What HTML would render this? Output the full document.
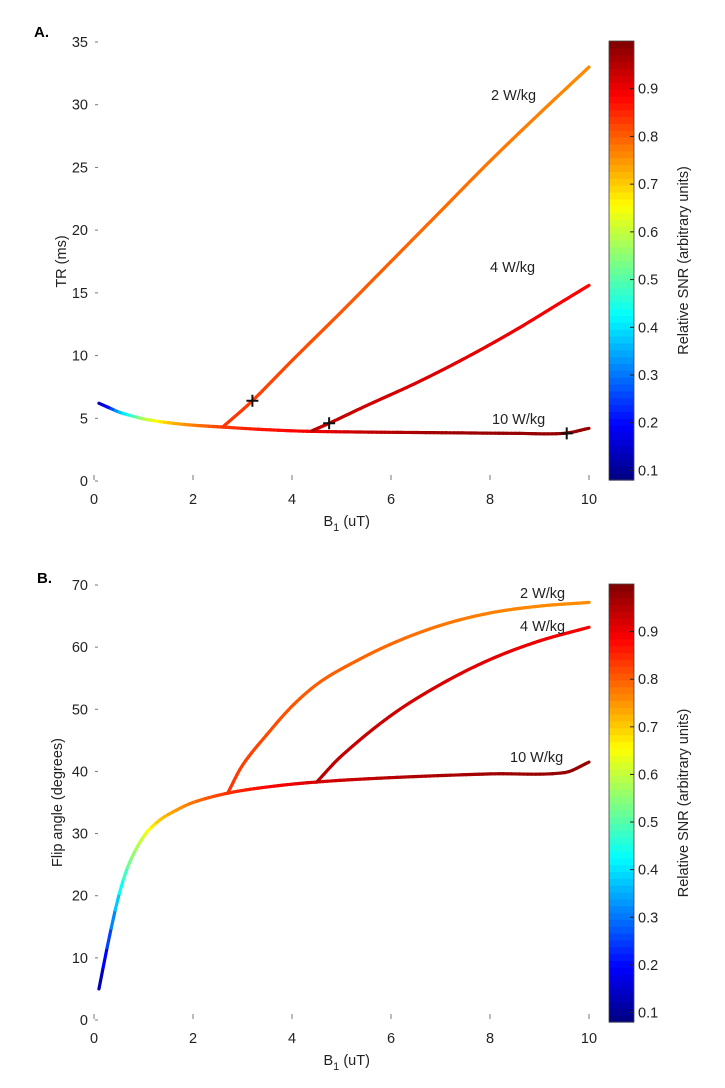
<!DOCTYPE html>
<html><head><meta charset="utf-8"><style>
body{margin:0;background:#fff;}
svg{display:block;font-family:"Liberation Sans","DejaVu Sans",sans-serif;}
</style></head><body>
<svg id="fig" width="725" height="1088" viewBox="0 0 725 1088"></svg>
<script>
// ---- Panel A data (TR vs B1) ----
const baseA_x=[0.1,0.3,0.5,0.8,1.0,1.3,1.6,2.0,2.6,3.2,4.0,4.5,5.5,7,8.5,9.5,10];
const baseA_y=[6.2,5.85,5.5,5.15,4.95,4.75,4.6,4.45,4.3,4.15,4.0,3.95,3.9,3.85,3.8,3.8,4.2];
const baseA_c=[0.12,0.2,0.35,0.48,0.58,0.66,0.72,0.77,0.83,0.86,0.88,0.9,0.94,0.97,0.98,0.98,0.98];
const w2A_x=[2.6,3.2,4,5,6,7,8,9,10];
const w2A_y=[4.3,6.4,9.6,13.5,17.5,21.5,25.5,29.3,33];
const w2A_c=[0.84,0.83,0.82,0.81,0.8,0.79,0.78,0.77,0.76];
const w4A_x=[4.4,4.75,5.5,6.5,7.5,8.5,9.5,10];
const w4A_y=[4.0,4.6,6.0,7.8,9.8,12.0,14.4,15.6];
const w4A_c=[0.95,0.94,0.93,0.92,0.91,0.9,0.89,0.88];
const markA_x=[3.2,4.75,9.55];
const markA_y=[6.4,4.6,3.8];
// ---- Panel B data (flip angle vs B1) ----
const baseB_x=[0.1,0.3,0.5,0.7,1.0,1.3,1.6,2.0,2.7,3.5,4.5,6,8,9.5,10];
const baseB_y=[5,13,20,25,29.5,32,33.5,35,36.5,37.5,38.3,39,39.6,39.8,41.5];
const baseB_c=[0.1,0.25,0.4,0.52,0.62,0.7,0.74,0.78,0.84,0.88,0.92,0.95,0.97,0.98,0.98];
const w2B_x=[2.7,3,3.5,4,4.5,5,6,7,8,9,10];
const w2B_y=[36.5,41,46,50.5,54,56.5,60.5,63.5,65.5,66.6,67.2];
const w2B_c=[0.84,0.83,0.82,0.81,0.8,0.8,0.79,0.78,0.77,0.76,0.76];
const w4B_x=[4.5,5,6,7,8,9,10];
const w4B_y=[38.3,42.5,49,54,58,61,63.2];
const w4B_c=[0.95,0.94,0.93,0.92,0.91,0.9,0.89];
const xTicks=[0,2,4,6,8,10];
const yTicksA=[0,5,10,15,20,25,30,35];
const yTicksB=[0,10,20,30,40,50,60,70];
const cbTicks=[0.1,0.2,0.3,0.4,0.5,0.6,0.7,0.8,0.9];

const NS="http://www.w3.org/2000/svg";
const svg=document.getElementById('fig');
const VTOP=1.0,VBOT=0.08;
function el(tag,attrs,parent){const e=document.createElementNS(NS,tag);for(const k in attrs)e.setAttribute(k,attrs[k]);(parent||svg).appendChild(e);return e;}
function jet(val){
  const v=(val-VBOT)/(VTOP-VBOT);
  function c(x){return Math.max(0,Math.min(1,x));}
  const r=c(1.5-Math.abs(4*v-3)),g=c(1.5-Math.abs(4*v-2)),b=c(1.5-Math.abs(4*v-1));
  return `rgb(${Math.round(r*255)},${Math.round(g*255)},${Math.round(b*255)})`;
}
// monotone-ish smooth interpolation (Catmull-Rom)
function interp(xs,ys,x){
  const n=xs.length;
  for(let i=0;i<n-1;i++){
    if(x<=xs[i+1]||i===n-2){
      const t=(x-xs[i])/(xs[i+1]-xs[i]);
      const h=xs[i+1]-xs[i];
      const m0=i>0?(ys[i+1]-ys[i-1])/(xs[i+1]-xs[i-1]):(ys[i+1]-ys[i])/h;
      const m1=i<n-2?(ys[i+2]-ys[i])/(xs[i+2]-xs[i]):(ys[i+1]-ys[i])/h;
      const t2=t*t,t3=t2*t;
      return (2*t3-3*t2+1)*ys[i]+(t3-2*t2+t)*h*m0+(-2*t3+3*t2)*ys[i+1]+(t3-t2)*h*m1;
    }
  }
  return ys[n-1];
}

function panel(cfg){
  const g=el('g',{});
  
  
  const X=v=>cfg.x0+(v/10)*(cfg.x1-cfg.x0);
  const Y=v=>cfg.y0-(v/cfg.ymax)*(cfg.y0-cfg.y1);
  cfg.yTicks.forEach(t=>{
    const y=Y(t);
    const l=el('line',{x1:cfg.x0+1,x2:cfg.x0+4,y1:y,y2:y,stroke:'#777','stroke-width':1},g);
    
    const tx=el('text',{x:cfg.x0-6,y:y+5,'text-anchor':'end','font-size':14.5,fill:'#222'},g);
    tx.textContent=t;
    
  });
  xTicks.forEach(t=>{
    const x=X(t);
    const l=el('line',{x1:x,x2:x,y1:cfg.y0-6,y2:cfg.y0-1,stroke:'#777','stroke-width':1},g);
    
    const tx=el('text',{x:x,y:cfg.y0+23,'text-anchor':'middle','font-size':14.5,fill:'#222'},g);
    tx.textContent=t;
    
  });
  cfg.series.forEach(s=>{
    const sg=el('g',{},g);
    
    
    const N=120, xs=s.x, x0=xs[0], x1=xs[xs.length-1];
    for(let i=0;i<N;i++){
      const a=x0+(x1-x0)*i/N,b=x0+(x1-x0)*(i+1)/N;
      let ci=0;while(ci<xs.length-2&&(a+b)/2>xs[ci+1])ci++;
      const t=((a+b)/2-xs[ci])/(xs[ci+1]-xs[ci]);
      const cv=s.c[ci]+t*(s.c[ci+1]-s.c[ci]);
      el('line',{x1:X(a),y1:Y(interp(xs,s.y,a)),x2:X(b),y2:Y(interp(xs,s.y,b)),
        stroke:jet(cv),'stroke-width':3.2,'stroke-linecap':'round'},sg);
    }
  });
  (cfg.mx||[]).forEach((mx,i)=>{
    const x=X(mx),y=Y(cfg.my[i]);
    const p=el('path',{d:`M${x-6},${y}H${x+6}M${x},${y-6}V${y+6}`,stroke:'#111','stroke-width':2},g);
    
  });
  cfg.labels.forEach(L=>{
    const t=el('text',{x:L[1],y:L[2],'font-size':14.5,fill:'#222'},g);
    t.textContent=L[0];
    
  });
  const yt=el('text',{x:0,y:0,'font-size':14.5,fill:'#222','text-anchor':'middle',transform:`translate(${cfg.ytx},${(cfg.y0+cfg.y1)/2}) rotate(-90)`},g);
  yt.textContent=cfg.ytitle;
  
  const xt=el('text',{x:(cfg.x0+cfg.x1)/2-18,y:cfg.y0+45,'font-size':14.5,fill:'#222'},g);
  xt.innerHTML='B<tspan dy="5" font-size="11">1</tspan><tspan dy="-5"> (uT)</tspan>';
  
  const pl=el('text',{x:cfg.lx,y:cfg.ly,'font-size':15,'font-weight':'bold',fill:'#000'},g);
  pl.textContent=cfg.letter;
  
  const cb=el('g',{},g);
  
  const cy0=cfg.cb[0],cy1=cfg.cb[1];
  const CY=v=>cy1-(v-VBOT)/(VTOP-VBOT)*(cy1-cy0);
  const bands=64;
  for(let i=0;i<bands;i++){
    const v0=VBOT+(VTOP-VBOT)*i/bands,v1=VBOT+(VTOP-VBOT)*(i+1)/bands;
    el('rect',{x:609,y:CY(v1),width:25,height:CY(v0)-CY(v1)+0.6,fill:jet((v0+v1)/2)},cb);
  }
  el('rect',{x:609,y:cy0,width:25,height:cy1-cy0,fill:'none',stroke:'#444','stroke-width':0.8},cb);
  cbTicks.forEach(t=>{
    const y=CY(t);
    el('line',{x1:630,x2:634,y1:y,y2:y,stroke:'#222','stroke-width':1},cb);
    const tx=el('text',{x:638,y:y+5,'font-size':14.5,fill:'#222'},cb);
    tx.textContent=t.toFixed(1);
    
  });
  const ct=el('text',{x:0,y:0,'font-size':14.5,fill:'#222','text-anchor':'middle',transform:`translate(688,${(cy0+cy1)/2}) rotate(-90)`},cb);
  ct.textContent='Relative SNR (arbitrary units)';
  
}

panel({name:'panel-a-tr-chart',x0:94,x1:589,y0:481,y1:42,ymax:35,yTicks:yTicksA,
  series:[{name:'series-10wkg',x:baseA_x,y:baseA_y,c:baseA_c},{name:'series-2wkg',x:w2A_x,y:w2A_y,c:w2A_c},{name:'series-4wkg',x:w4A_x,y:w4A_y,c:w4A_c}],
  mx:markA_x,my:markA_y,
  labels:[['2 W/kg',491,100],['4 W/kg',490,272],['10 W/kg',492,424]],
  ytitle:'TR (ms)',ytx:66,letter:'A.',lx:34,ly:37,cb:[41,480]});
panel({name:'panel-b-flip-chart',x0:94,x1:589,y0:1020,y1:585,ymax:70,yTicks:yTicksB,
  series:[{name:'series-10wkg',x:baseB_x,y:baseB_y,c:baseB_c},{name:'series-2wkg',x:w2B_x,y:w2B_y,c:w2B_c},{name:'series-4wkg',x:w4B_x,y:w4B_y,c:w4B_c}],
  labels:[['2 W/kg',520,598],['4 W/kg',520,631],['10 W/kg',510,762]],
  ytitle:'Flip angle (degrees)',ytx:62,letter:'B.',lx:37,ly:583,cb:[584,1022]});
</script>
</body></html>
